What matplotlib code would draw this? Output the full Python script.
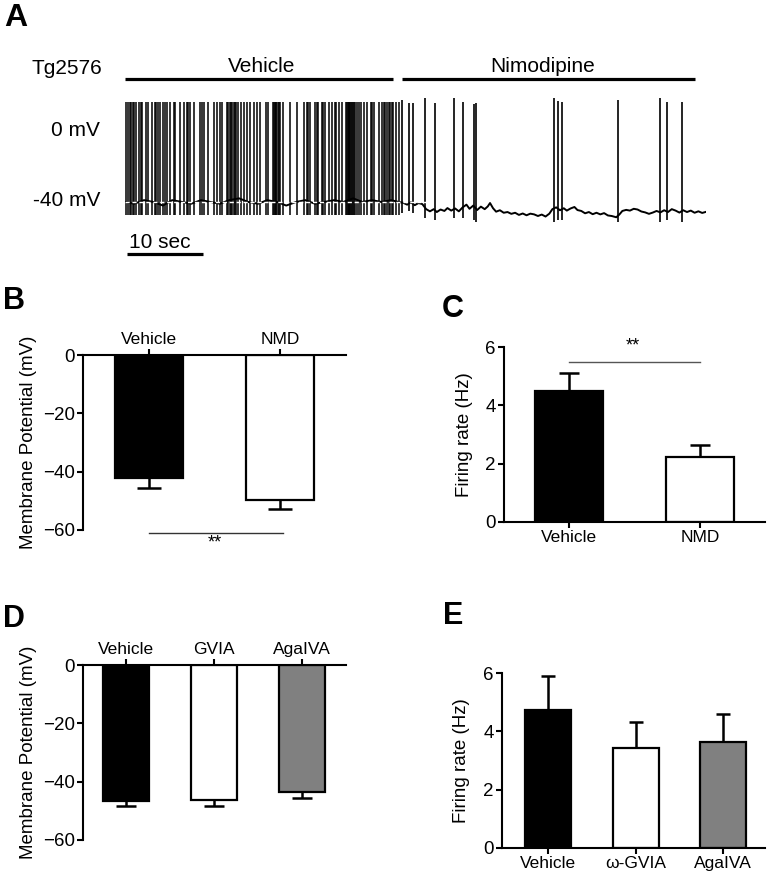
import numpy as np
import matplotlib
matplotlib.use("Agg")
import matplotlib.pyplot as plt

plt.rcParams['font.family'] = ['Liberation Sans', 'DejaVu Sans']

# ---- panel A : recording (time in s, potential in mV)
vehicle_spikes = [0.1, 0.4, 0.6, 0.8, 1.0, 1.2, 1.4, 1.9, 2.1, 2.3, 2.8, 3.0, 3.6, 3.9,
                  4.1, 4.3, 4.6, 5.0, 5.2, 5.5, 5.9, 6.4, 6.6, 7.2, 7.7, 8.1, 8.3, 8.6,
                  9.1, 9.9, 10.1, 10.4, 10.9, 11.7, 12.1, 12.5, 12.7, 13.4, 13.6, 13.8,
                  14.0, 14.1, 14.3, 14.5, 14.6, 14.8, 15.2, 15.6, 16.0, 16.4, 16.9, 17.3,
                  17.8, 18.6, 18.8, 19.5, 19.6, 19.7, 19.8, 19.9, 20.1, 20.2, 20.4, 20.8,
                  21.7, 22.6, 23.6, 23.9, 24.1, 24.3, 25.0, 25.2, 25.4, 25.9, 26.1, 26.3,
                  26.8, 27.2, 27.6, 27.8, 28.1, 28.5, 29.0, 29.2, 29.3, 29.4, 29.5, 29.6,
                  29.7, 29.8, 30.0, 30.1, 30.3, 30.5, 30.8, 31.0, 31.4, 31.8, 32.3, 32.5,
                  32.7, 33.4, 33.8, 34.0, 34.2, 34.5, 34.7, 34.9, 35.1, 35.3, 35.6, 36.0]
vehicle_peak = 15.5
vehicle_trough = -47.5

nmd_spikes = [36.45, 37.37, 37.85, 39.43, 40.7, 43.2, 44.43, 45.83, 46.18,
              56.45, 56.93, 57.5, 64.87, 70.3, 71.27, 73.2]
nmd_peak = [16.7, 14.8, 14.8, 17.6, 14.8, 17.6, 15.7, 14.3, 14.8,
            17.6, 16.3, 15.7, 16.7, 17.6, 15.7, 15.7]
nmd_trough = [-46, -45, -46, -49, -50, -49, -49, -50, -51,
              -51, -50, -50, -51, -51, -50, -51]

base_time = [0.0, 1.2, 2.5, 3.7, 5.0, 6.2, 7.5, 8.7, 10.0, 11.2, 12.5, 13.7, 15.0, 16.2,
             17.5, 18.7, 20.0, 21.2, 22.5, 23.7, 25.0, 26.2, 27.5, 28.7, 30.0, 31.2,
             32.5, 33.7, 35.0, 36.0,
             36.6, 37.1, 37.6, 38.1, 38.6, 39.1, 39.6, 40.1, 40.6, 41.0, 41.5, 42.0,
             42.4, 42.9, 43.4, 43.9, 44.4, 44.9, 45.3, 45.8, 46.3, 46.8, 47.3, 47.7,
             48.0, 48.4, 48.8, 49.3, 49.8, 50.3, 50.8, 51.3, 51.8, 52.3, 52.8, 53.3,
             53.8, 54.3, 54.8, 55.3, 55.8, 56.2, 56.7, 57.2, 57.7, 58.1, 58.6, 59.1,
             59.5, 60.0, 60.5, 61.0, 61.5, 62.0, 62.5, 63.0, 63.5, 64.0, 64.6, 65.0,
             65.4, 65.9, 66.4, 66.9, 67.4, 67.9, 68.4, 68.9, 69.4, 69.9, 70.4, 70.9,
             71.4, 71.9, 72.4, 72.9, 73.4, 73.9, 74.4, 74.9, 75.4, 75.9, 76.4]
base_mv = [-40, -41, -39, -40, -42, -39, -40, -41, -39, -40, -41, -39, -38, -40,
           -41, -39, -40, -42, -40, -39, -41, -40, -39, -40, -38, -40, -39, -40, -39, -40,
           -40.5, -41.5, -40.2, -41.8, -40.6, -41.2, -44.0, -45.2, -44.0, -45.6, -44.2, -45.0,
           -43.4, -44.8, -43.6, -45.2, -43.0, -41.5, -43.8, -42.0, -44.5, -42.6, -44.0, -42.5,
           -40.6, -43.5, -45.4, -44.6, -46.0, -45.6, -46.6, -46.0, -47.2, -46.4, -47.4, -46.5,
           -46.9, -47.8, -47.0, -48.1, -46.5, -44.0, -43.0, -44.6, -43.5, -44.8, -43.6, -42.8,
           -44.5, -45.0, -46.3, -45.6, -46.8, -46.0, -46.9, -46.2, -47.5, -47.8, -48.5, -47.0,
           -45.0, -44.4, -44.8, -43.8, -44.2, -45.3, -45.8, -46.6, -45.9, -45.0, -45.8, -44.6,
           -45.6, -44.0, -44.8, -45.9, -44.6, -45.6, -44.8, -46.0, -45.2, -46.1, -45.5]

# ---- panels B-E : means and SEM
b_labels = ['Vehicle', 'NMD']
b_mean = [-42.1, -49.6]
b_sem = [3.4, 3.1]

c_labels = ['Vehicle', 'NMD']
c_mean = [4.49, 2.23]
c_sem = [0.61, 0.41]

d_labels = ['Vehicle', 'GVIA', 'AgaIVA']
d_mean = [-46.6, -46.3, -43.5]
d_sem = [1.7, 2.0, 2.1]

e_labels = ['Vehicle', 'ω-GVIA', 'AgaIVA']
e_mean = [4.73, 3.43, 3.63]
e_sem = [1.17, 0.89, 0.96]

two_cols = ['black', 'white']
three_cols = ['black', 'white', '#808080']

W, H = 767, 876
fig = plt.figure(figsize=(W / 100, H / 100), dpi=100)


def px_axes(l, t, r, b):
    return fig.add_axes([l / W, 1 - b / H, (r - l) / W, (b - t) / H])


def ftext(x, y, s, **kw):
    fig.text(x / W, 1 - y / H, s, **kw)


# ---------------- A
ax = px_axes(125, 95, 706, 225)
ax.set_xlim(0, 76.4)
ax.set_ylim(-52.8, 19.4)
ax.axis('off')
ax.plot(base_time, base_mv, color='black', lw=1.4)
ax.vlines(vehicle_spikes, vehicle_trough, vehicle_peak, color='black', lw=1.1)
ax.vlines(nmd_spikes, nmd_trough, nmd_peak, color='black', lw=1.2)
ax.axhline(-40, xmin=0, xmax=0.53, color='white', lw=1.0, ls=(0, (3, 2)))
ax.plot([0, 35.3], [28.3, 28.3], color='black', lw=2.3, clip_on=False, solid_capstyle='butt')
ax.plot([36.4, 75.0], [28.3, 28.3], color='black', lw=2.3, clip_on=False, solid_capstyle='butt')
ax.text(17.9, 35.0, 'Vehicle', ha='center', va='center', fontsize=15, clip_on=False)
ax.text(54.9, 35.0, 'Nimodipine', ha='center', va='center', fontsize=15, clip_on=False)
ax.plot([0.26, 10.26], [-68.9, -68.9], color='black', lw=2.3, clip_on=False, solid_capstyle='butt')
ax.text(0.55, -62.3, '10 sec', ha='left', va='center', fontsize=15, clip_on=False)

ftext(4, 18, 'A', fontsize=23, fontweight='bold', va='center')
ftext(31, 69, 'Tg2576', fontsize=15, va='center')
ftext(100, 130, '0 mV', fontsize=15, va='center', ha='right')
ftext(100, 201, '-40 mV', fontsize=15, va='center', ha='right')


def style(ax, top):
    ax.spines['right'].set_visible(False)
    if top:
        ax.spines['bottom'].set_visible(False)
        ax.xaxis.tick_top()
    else:
        ax.spines['top'].set_visible(False)
    for s in ax.spines.values():
        s.set_linewidth(1.5)
    ax.tick_params(width=1.5, length=4, labelsize=13.5, pad=2)
    ax.tick_params(axis='x', labelsize=12.5)


def bars(ax, labels, mean, sem, cols, width, cap, down):
    x = np.arange(len(labels))
    ax.bar(x, mean, width, color=cols, edgecolor='black', linewidth=1.6, zorder=2)
    ends = [m - s if down else m + s for m, s in zip(mean, sem)]
    ax.vlines(x, mean, ends, color='black', lw=1.8, zorder=1)
    ax.hlines(ends, x - cap, x + cap, color='black', lw=1.8, zorder=1)
    ax.set_xticks(x)
    ax.set_xticklabels(labels)


# ---------------- B
ax = px_axes(83, 355, 346, 530)
bars(ax, b_labels, b_mean, b_sem, two_cols, 0.52, 0.095, True)
ax.set_xlim(-0.504, 1.504)
ax.set_ylim(-60, 0)
ax.set_yticks([0, -20, -40, -60])
style(ax, True)
ax.set_ylabel('Membrane Potential (mV)', fontsize=13.5)
ax.yaxis.set_label_coords(-0.175, 0.5)
ax.plot([0, 1.02], [-61, -61], color='#333333', lw=1.0, clip_on=False)
ax.text(0.5, -64.6, '**', ha='center', va='center', fontsize=13, clip_on=False)
ftext(3, 301, 'B', fontsize=22, fontweight='bold', va='center')

# ---------------- C
ax = px_axes(504, 347, 765, 522)
bars(ax, c_labels, c_mean, c_sem, two_cols, 0.52, 0.08, False)
ax.set_xlim(-0.496, 1.496)
ax.set_ylim(0, 6)
ax.set_yticks([0, 2, 4, 6])
style(ax, False)
ax.set_ylabel('Firing rate (Hz)', fontsize=13.5)
ax.yaxis.set_label_coords(-0.12, 0.5)
ax.plot([0, 1.0], [5.49, 5.49], color='#555555', lw=1.0)
ax.text(0.49, 6.05, '**', ha='center', va='center', fontsize=13, clip_on=False)
ftext(442, 309, 'C', fontsize=22, fontweight='bold', va='center')

# ---------------- D
ax = px_axes(83, 665, 346, 840)
bars(ax, d_labels, d_mean, d_sem, three_cols, 0.52, 0.114, True)
ax.set_xlim(-0.489, 2.5)
ax.set_ylim(-60, 0)
ax.set_yticks([0, -20, -40, -60])
style(ax, True)
ax.set_ylabel('Membrane Potential (mV)', fontsize=13.5)
ax.yaxis.set_label_coords(-0.175, 0.5)
ftext(3, 619, 'D', fontsize=22, fontweight='bold', va='center')

# ---------------- E
ax = px_axes(502, 673, 765, 848)
bars(ax, e_labels, e_mean, e_sem, three_cols, 0.526, 0.08, False)
ax.set_xlim(-0.526, 2.48)
ax.set_ylim(0, 6)
ax.set_yticks([0, 2, 4, 6])
style(ax, False)
ax.set_ylabel('Firing rate (Hz)', fontsize=13.5)
ax.yaxis.set_label_coords(-0.12, 0.5)
ftext(443, 616, 'E', fontsize=22, fontweight='bold', va='center')

fig.savefig('out.png', dpi=100)
